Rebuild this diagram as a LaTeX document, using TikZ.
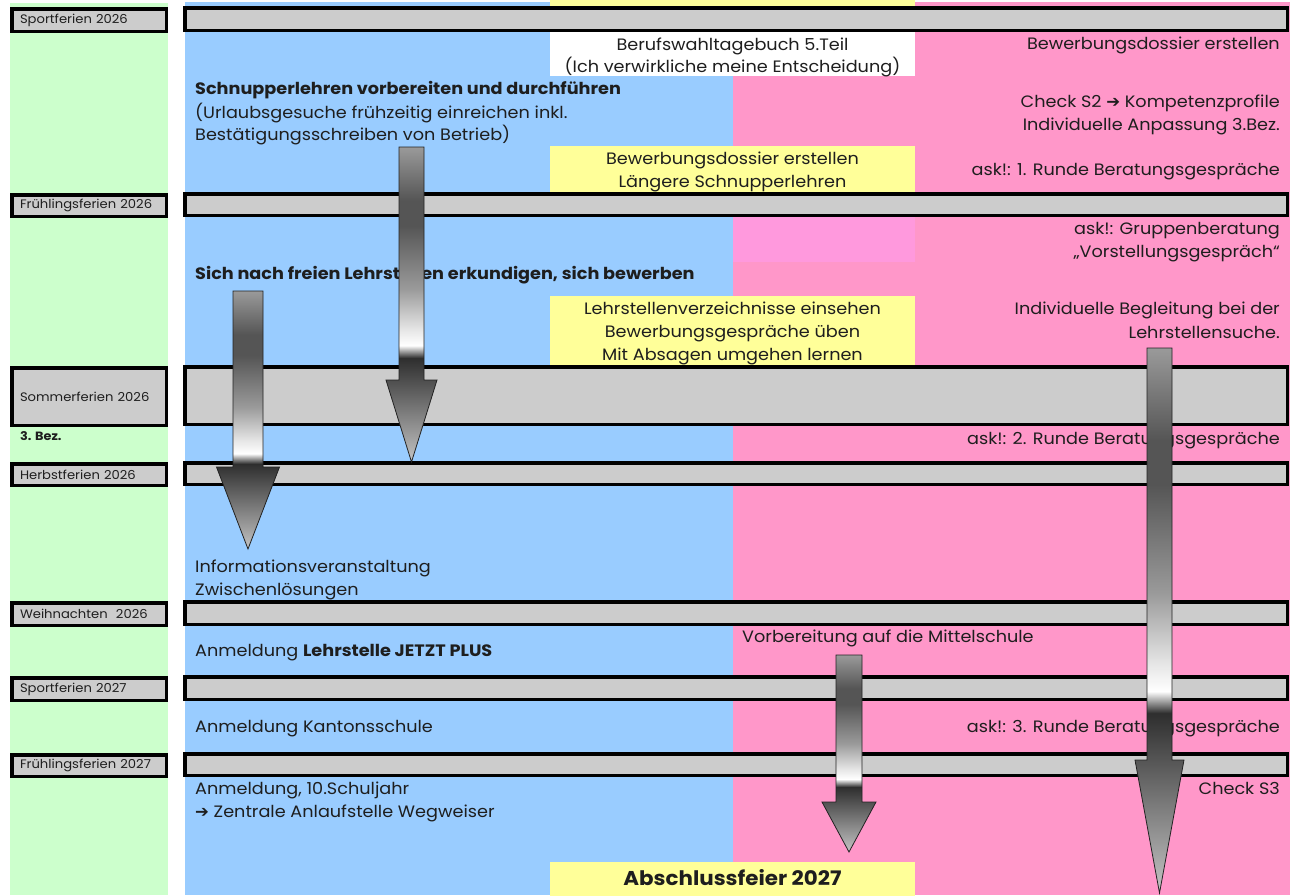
\documentclass[tikz,border=0pt]{standalone}
\usepackage{fontspec}
\setmainfont{Poppins}[FakeStretch=1.07]
\newfontfamily\symfont{DejaVu Sans}
\definecolor{cgreen}{HTML}{CCFFCC}
\definecolor{cblue}{HTML}{99CCFF}
\definecolor{cpink}{HTML}{FF97C9}
\definecolor{cpinkL}{HTML}{FF99DD}
\definecolor{cyellow}{HTML}{FFFF99}
\definecolor{cgray}{HTML}{CCCCCC}
\definecolor{ctext}{HTML}{1E1E1E}
\definecolor{arrowline}{HTML}{222222}
\definecolor{sA}{HTML}{9A9A9A}
\definecolor{sB}{HTML}{555555}
\definecolor{sC}{HTML}{E6E6E6}
\definecolor{sD}{HTML}{FFFFFF}
\definecolor{sE}{HTML}{2E2E2E}
\definecolor{sF}{HTML}{C4C4C4}
\pgfdeclareverticalshading{metal}{100bp}{color(0bp)=(sF); color(25bp)=(sF); color(41.5bp)=(sE); color(43.5bp)=(sD); color(46bp)=(sC); color(52.5bp)=(sA); color(62.5bp)=(sB); color(66.5bp)=(sB); color(75bp)=(sA); color(100bp)=(sA)}
\tikzset{
  lbl/.style={draw=black, line width=3.5pt, fill=cgray, text width=138pt, align=left,
    inner xsep=8.25pt, inner ysep=0pt, font=\fontsize{12.3}{14}\selectfont, text=ctext},
  barbox/.style={draw=black, line width=3.5pt, fill=cgray, inner sep=0pt, minimum width=1102.5pt},
  txt/.style={inner sep=0pt, font=\fontsize{16.5}{19}\selectfont, text=ctext},
  btxt/.style={txt, font=\fontsize{16.5}{19}\selectfont\bfseries},
  rt/.style={txt, anchor=mid east},
  lt/.style={txt, anchor=mid west},
  ct/.style={txt, anchor=mid},
  metalarrow/.style={shade, shading=metal, draw=arrowline, line width=0.8pt, line join=miter}
}
\newcommand{\timerow}[4]{%
  \node[lbl, minimum height={#3-#2-3.5}] (#1-l) at (89,{(#2+#3)/2+1}) {#4};
  \node[barbox, minimum height={#3-#2-3.5}] (#1-b) at (736,{(#2+#3)/2}) {};
}
\newcommand{\metalarr}[7]{%
  \coordinate (#1-s) at (#2,#5);
  \coordinate (#1-e) at (#2,#7);
  \path[metalarrow] (#2-#3,#5) -- (#2+#3,#5) -- (#2+#3,#6) -- (#2+#4,#6) -- (#1-e)
    -- (#2-#4,#6) -- (#2-#3,#6) -- cycle;
}
\begin{document}
\begin{tikzpicture}[x=1pt,y=-1pt]
\useasboundingbox (0,0) rectangle (1293,895);
\fill[white] (0,0) rectangle (1293,895);
% columns
\fill[cgreen] (10,3) rectangle (168,895);
\fill[cblue] (185,2) rectangle (733,895);
\fill[cpink] (733,2) rectangle (1290,895);
% boxes
\fill[cyellow] (550,0) rectangle (915,7);
\node[fill=white, inner sep=0pt, minimum width=365pt, minimum height=46pt] (wbox) at (732.5,53) {};
\node[fill=cyellow, inner sep=0pt, minimum width=365pt, minimum height=46pt] (ybox1) at (732.5,169) {};
\node[fill=cpinkL, inner sep=0pt, minimum width=182pt, minimum height=46pt] (pbox) at (824,239) {};
\node[fill=cyellow, inner sep=0pt, minimum width=365pt, minimum height=69pt] (ybox2) at (732.5,330.5) {};
\node[fill=cyellow, inner sep=0pt, minimum width=365pt, minimum height=34pt] (ybox3) at (732.5,879) {};
% time rows
\timerow{r1}{6}{32}{Sportferien 2026}
\timerow{r2}{192}{217}{Frühlingsferien 2026}
\timerow{r3}{365}{426}{Sommerferien 2026}
\timerow{r4}{461}{486}{Herbstferien 2026}
\timerow{r5}{600}{626}{Weihnachten\ \ 2026}
\timerow{r6}{675}{701}{Sportferien 2027}
\timerow{r7}{752}{777}{Frühlingsferien 2027}
\node[inner sep=0pt, anchor=mid west, font=\fontsize{12}{14}\selectfont\bfseries, text=ctext] (bez) at (20,438) {3. Bez.};
% texts right column
\node[rt] (t1) at (1280,47) {Bewerbungsdossier erstellen};
\node[rt] (t2) at (1280,105) {Check S2 {\symfont ➔} Kompetenzprofile};
\node[rt] (t3) at (1280,128) {Individuelle Anpassung 3.Bez.};
\node[rt] (t4) at (1280,173) {ask!: 1. Runde Beratungsgespräche};
\node[rt] (t5) at (1280,232) {ask!: Gruppenberatung};
\node[rt] (t6) at (1280,255) {„Vorstellungsgespräch“};
\node[rt] (t7) at (1280,312) {Individuelle Begleitung bei der};
\node[rt] (t8) at (1280,336) {Lehrstellensuche.};
\node[rt] (t9) at (1280,442) {ask!: 2. Runde Beratungsgespräche};
\node[rt] (t10) at (1280,730) {ask!: 3. Runde Beratungsgespräche};
\node[rt] (t11) at (1280,792) {Check S3};
% centre texts
\node[ct] (c1) at (732.5,48) {Berufswahltagebuch 5.Teil};
\node[ct] (c2) at (732.5,70) {(Ich verwirkliche meine Entscheidung)};
\node[ct] (c3) at (732.5,162) {Bewerbungsdossier erstellen};
\node[ct] (c4) at (732.5,185) {Längere Schnupperlehren};
\node[ct] (c5) at (732.5,312) {Lehrstellenverzeichnisse einsehen};
\node[ct] (c6) at (732.5,335) {Bewerbungsgespräche üben};
\node[ct] (c7) at (732.5,358) {Mit Absagen umgehen lernen};
\node[txt, anchor=mid, font=\fontsize{20}{23}\selectfont\bfseries] (c8) at (732.5,883) {Abschlussfeier 2027};
% left texts
\node[btxt, anchor=mid west] (l1) at (195,92) {Schnupperlehren vorbereiten und durchführen};
\node[lt] (l2) at (195,116) {(Urlaubsgesuche frühzeitig einreichen inkl.};
\node[lt] (l3) at (195,138) {Bestätigungsschreiben von Betrieb)};
\node[btxt, anchor=mid west] (l4) at (195,277) {Sich nach freien Lehrstellen erkundigen, sich bewerben};
\node[lt] (l5) at (195,570) {Informationsveranstaltung};
\node[lt] (l6) at (195,593) {Zwischenlösungen};
\node[lt] (l7) at (195,654) {Anmeldung \textbf{Lehrstelle JETZT PLUS}};
\node[lt] (l8) at (195,730) {Anmeldung Kantonsschule};
\node[lt] (l9) at (195,792) {Anmeldung, 10.Schuljahr};
\node[lt] (l10) at (195,815) {{\symfont ➔} Zentrale Anlaufstelle Wegweiser};
\node[lt] (m1) at (742,640) {Vorbereitung auf die Mittelschule};
% arrows
\metalarr{aA}{411.5}{12.5}{25.5}{147}{380}{462}
\metalarr{aB}{248}{15}{31.5}{291}{467}{549}
\metalarr{aC}{849}{13}{27}{655}{802}{852}
\metalarr{aD}{1159.5}{12.5}{24.5}{348}{760}{893}
\end{tikzpicture}
\end{document}
